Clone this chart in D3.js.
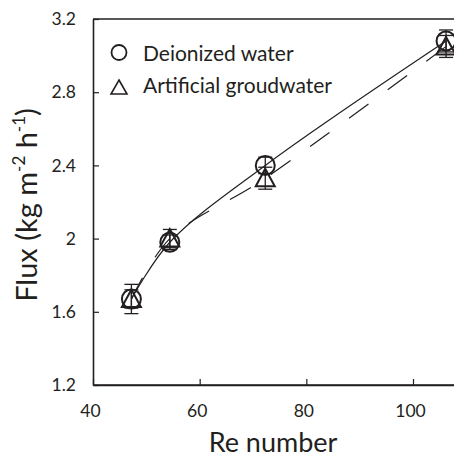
<!DOCTYPE html>
<html>
<head>
<meta charset="utf-8">
<script src="https://cdn.jsdelivr.net/npm/d3@7/dist/d3.min.js"></script>
<style>
  html, body { margin: 0; padding: 0; background: #fff; }
  svg { display: block; }
  text { font-family: Lato, "Open Sans", sans-serif; fill: #231f20; }
</style>
</head>
<body>
<svg id="chart" width="454" height="458"></svg>
<script>
// ---- data ----
const reNumbers = [47.2, 54.4, 72.3, 106.2];
const deionizedFlux = [1.67, 1.98, 2.40, 3.08];
const deionizedErr = [0.08, 0.04, 0.045, 0.06];
const groundwaterFlux = [1.67, 2.00, 2.33, 3.05];
const groundwaterErr = [0.05, 0.05, 0.06, 0.06];
const xTicks = [40, 60, 80, 100];
const yTicks = [1.2, 1.6, 2.0, 2.4, 2.8, 3.2];
const yTickLabels = ["1.2", "1.6", "2", "2.4", "2.8", "3.2"];
const seriesNames = ["Deionized water", "Artificial groudwater"];

const svg = d3.select("#chart");
const ink = "#231f20";
const mLeft = 93, mTop = 19, mBottom = 385;
const x = d3.scaleLinear().domain([40, 120]).range([mLeft, mLeft + 80 * (320 / 60)]);
const y = d3.scaleLinear().domain([1.2, 3.2]).range([mBottom, mTop]);

// axes
const gx = svg.append("g").attr("transform", `translate(0,${mBottom})`)
  .call(d3.axisBottom(x).tickValues(xTicks).tickFormat(d3.format("d"))
    .tickSizeInner(-6).tickSizeOuter(0).tickPadding(20));
const gy = svg.append("g").attr("transform", `translate(${mLeft},0)`)
  .call(d3.axisLeft(y).tickValues(yTicks).tickFormat((d, i) => yTickLabels[i])
    .tickSizeInner(-6).tickSizeOuter(0).tickPadding(17));
[gx, gy].forEach(g => {
  g.select(".domain").attr("stroke", ink).attr("stroke-width", 1.6);
  g.selectAll(".tick line").attr("stroke", ink).attr("stroke-width", 1.2);
  g.selectAll(".tick text").attr("font-size", 17.5).attr("fill", ink)
    .style("font-family", "Lato, 'Open Sans', sans-serif");
});
gx.selectAll(".tick text").attr("dx", -3);
// extend bottom axis past the visible edge, plus top / right border
svg.append("line").attr("x1", x(40)).attr("x2", x(120)).attr("y1", y(1.2)).attr("y2", y(1.2))
  .attr("stroke", ink).attr("stroke-width", 1.6);
svg.append("line").attr("x1", x(40)).attr("x2", x(120)).attr("y1", y(3.2)).attr("y2", y(3.2))
  .attr("stroke", ink).attr("stroke-width", 1.6);
svg.append("line").attr("x1", x(120)).attr("x2", x(120)).attr("y1", y(3.2)).attr("y2", y(1.2))
  .attr("stroke", ink).attr("stroke-width", 1.6);

// curves
const line = d3.line().curve(d3.curveCatmullRom.alpha(0.5));
const dPts = reNumbers.map((r, i) => [x(r), y(deionizedFlux[i])]);
const gPts = reNumbers.map((r, i) => [x(r), y(groundwaterFlux[i])]);
svg.append("path").attr("d", line(gPts)).attr("fill", "none").attr("stroke", ink)
  .attr("stroke-width", 1.2).attr("stroke-dasharray", "24,24");
svg.append("path").attr("d", line(dPts)).attr("fill", "none").attr("stroke", ink)
  .attr("stroke-width", 1.2);

// error bars
function errBars(vals, errs) {
  reNumbers.forEach((r, i) => {
    const cx = x(r), y1 = y(vals[i] + errs[i]), y2 = y(vals[i] - errs[i]);
    svg.append("line").attr("x1", cx).attr("x2", cx).attr("y1", y1).attr("y2", y2)
      .attr("stroke", ink).attr("stroke-width", 1.3);
    [y1, y2].forEach(yy => svg.append("line").attr("x1", cx - 7).attr("x2", cx + 7)
      .attr("y1", yy).attr("y2", yy).attr("stroke", ink).attr("stroke-width", 1.3));
  });
}
errBars(deionizedFlux, deionizedErr);
errBars(groundwaterFlux, groundwaterErr);

// markers
const triPath = (cx, cy) => `M${cx},${cy - 9.5}L${cx + 9.5},${cy + 8}L${cx - 9.5},${cy + 8}Z`;
reNumbers.forEach((r, i) => {
  svg.append("circle").attr("cx", x(r)).attr("cy", y(deionizedFlux[i])).attr("r", 9.5)
    .attr("fill", "none").attr("stroke", ink).attr("stroke-width", 2);
  svg.append("path").attr("d", triPath(x(r), y(groundwaterFlux[i])))
    .attr("fill", "none").attr("stroke", ink).attr("stroke-width", 2);
});

// legend
svg.append("circle").attr("cx", 119).attr("cy", 52.5).attr("r", 7.5)
  .attr("fill", "none").attr("stroke", ink).attr("stroke-width", 1.8);
svg.append("path").attr("d", `M119,80L127,94L111,94Z`)
  .attr("fill", "none").attr("stroke", ink).attr("stroke-width", 1.6);
svg.append("text").attr("x", 143).attr("y", 61).attr("font-size", 21).text(seriesNames[0]);
svg.append("text").attr("x", 143).attr("y", 93).attr("font-size", 21).text(seriesNames[1]);

// axis titles
svg.append("text").attr("x", 273).attr("y", 452).attr("text-anchor", "middle")
  .attr("font-size", 27).text("Re number");
const yt = svg.append("text").attr("transform", "translate(37,205) rotate(-90)")
  .attr("text-anchor", "middle").attr("font-size", 29);
yt.append("tspan").text("Flux (kg m");
yt.append("tspan").attr("font-size", 17).attr("dy", -12).text("-2");
yt.append("tspan").attr("dy", 12).text(" h");
yt.append("tspan").attr("font-size", 17).attr("dy", -12).text("-1");
yt.append("tspan").attr("dy", 12).text(")");
</script>
</body>
</html>
